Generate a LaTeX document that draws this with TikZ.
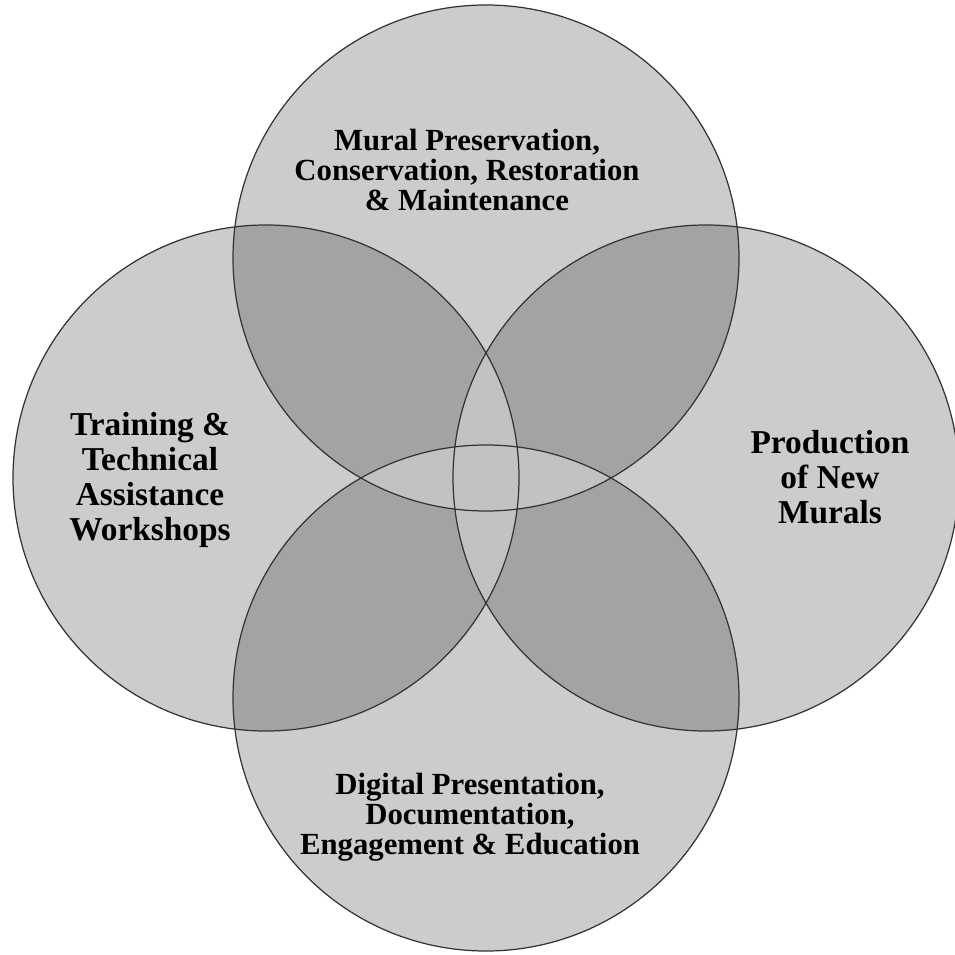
\documentclass[tikz,border=0pt]{standalone}
\usepackage{fontspec}
\setmainfont{Liberation Serif}
\usetikzlibrary{positioning}

\begin{document}
\begin{tikzpicture}[x=0.02cm, y=-0.02cm]
    % Styles for the four discs and their texts
    \tikzstyle{ring}     = [fill = black, fill opacity = 0.2]
    \tikzstyle{core}     = [fill = black!24]
    \tikzstyle{rim}      = [draw = black!80, line width = 0.7pt]
    \tikzstyle{venntext} = [align = center, font = \bfseries\fontsize{17.5}{17}\selectfont]
    \tikzstyle{sidetext} = [align = center, font = \bfseries\fontsize{19}{20}\selectfont]
    \def\rad{253}

    \useasboundingbox (0,0) rectangle (954,955);

    % Disc centres
    \coordinate (cTop)    at (486,258);
    \coordinate (cBottom) at (486,698);
    \coordinate (cLeft)   at (266,478);
    \coordinate (cRight)  at (706,478);

    % Translucent discs
    \foreach \c in {cTop,cLeft,cRight,cBottom}
        \path[ring] (\c) circle[radius=\rad];

    % Lighter cross where three or four discs meet
    \begin{scope}
        \clip (cTop) circle[radius=\rad];
        \fill[core] (cBottom) circle[radius=\rad];
    \end{scope}
    \begin{scope}
        \clip (cLeft) circle[radius=\rad];
        \fill[core] (cRight) circle[radius=\rad];
    \end{scope}

    % Outlines
    \foreach \c in {cTop,cLeft,cRight,cBottom}
        \draw[rim] (\c) circle[radius=\rad];

    % Texts
    \node[venntext] (preserve)  at (467,170) {Mural Preservation,\\Conservation, Restoration\\\& Maintenance};
    \node[sidetext] (training)  at (150,480) {Training \&\\Technical\\Assistance\\Workshops};
    \node[sidetext] (newmurals) at (830,477) {Production\\of New\\Murals};
    \node[venntext] (digital)   at (470,817) {Digital Presentation,\\Documentation,\\Engagement \& Education};
\end{tikzpicture}
\end{document}
